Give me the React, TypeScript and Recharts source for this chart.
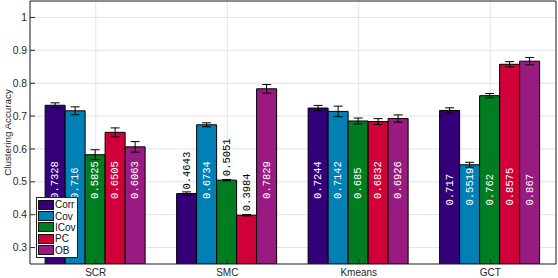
import React from "react";
import {
  BarChart,
  Bar,
  XAxis,
  YAxis,
  CartesianGrid,
  ErrorBar,
  LabelList,
  Legend,
  Label,
} from "recharts";

const categories = ["SCR", "SMC", "Kmeans", "GCT"];
const seriesNames = ["Corr", "Cov", "ICov", "PC", "OB"];
const seriesColors = ["#33007a", "#0080b4", "#007d20", "#d00038", "#991a80"];

const corrValues = [0.7328, 0.4643, 0.7244, 0.717];
const covValues = [0.716, 0.6734, 0.7142, 0.5519];
const icovValues = [0.5825, 0.5051, 0.685, 0.762];
const pcValues = [0.6505, 0.3984, 0.6832, 0.8575];
const obValues = [0.6063, 0.7829, 0.6926, 0.867];

const corrErrors = [0.0075, 0.005, 0.008, 0.008];
const covErrors = [0.012, 0.006, 0.016, 0.0075];
const icovErrors = [0.015, 0.002, 0.009, 0.0065];
const pcErrors = [0.0135, 0.002, 0.009, 0.008];
const obErrors = [0.016, 0.013, 0.011, 0.011];

const yTicks = [0.3, 0.4, 0.5, 0.6, 0.7, 0.8, 0.9, 1];

const seriesValues = [corrValues, covValues, icovValues, pcValues, obValues];
const seriesErrors = [corrErrors, covErrors, icovErrors, pcErrors, obErrors];

const data = categories.map((name, i) => {
  const row: any = { name };
  seriesNames.forEach((s, j) => {
    row[s] = seriesValues[j][i];
    row[s + "Err"] = seriesErrors[j][i];
  });
  return row;
});

const AXIS = "#262626";
const SANS = "'Liberation Sans', Arial, Helvetica, sans-serif";
const MONO = "'Liberation Mono', 'DejaVu Sans Mono', monospace";
const Y_MIN = 0.25;

// values sit inside the bar when tall enough, otherwise just above it
const renderValueLabel = (props: any) => {
  const { x, y, width, height, value, index } = props;
  const cx = x + width / 2;
  const bottom = y + height;
  const perUnit = height / (value - Y_MIN);
  const inside = value > 0.55;
  const anchor = index === 3 ? 0.428 : 0.448;
  const sy = inside ? bottom - (anchor - Y_MIN) * perUnit : y - 4;
  return (
    <text
      x={cx}
      y={sy}
      transform={`rotate(-90 ${cx} ${sy})`}
      textAnchor="start"
      dominantBaseline="central"
      fill={inside ? "#fff" : "#000"}
      fontSize={10.5}
      fontFamily={MONO}
    >
      {value}
    </text>
  );
};

const renderLegend = () => (
  <div
    style={{
      border: "1.5px solid #222",
      background: "#fff",
      padding: "1px 0 1px 1px",
      width: 39,
      height: 57,
      boxSizing: "content-box",
      overflow: "hidden",
    }}
  >
    {seriesNames.map((name, i) => (
      <div
        key={name}
        style={{ display: "flex", alignItems: "center", height: 11.4, whiteSpace: "nowrap" }}
      >
        <span
          style={{
            display: "inline-block",
            flex: "none",
            width: 14,
            height: 8,
            background: seriesColors[i],
            border: "1px solid #111",
            marginRight: 1,
          }}
        />
        <span
          style={{
            fontSize: 10,
            fontFamily: SANS,
            color: "#111",
            lineHeight: "11px",
          }}
        >
          {name}
        </span>
      </div>
    ))}
  </div>
);

const renderYLabel = (props: any) => {
  const vb = props.viewBox || { x: 0, y: 0, width: 30, height: 264 };
  const lx = vb.x + 7;
  const ly = vb.y + vb.height / 2;
  return (
    <text
      x={lx}
      y={ly}
      transform={`rotate(-90 ${lx} ${ly})`}
      textAnchor="middle"
      dominantBaseline="central"
      fontSize={9.8}
      fontFamily={SANS}
      fill={AXIS}
    >
      Clustering Accuracy
    </text>
  );
};

export default function App() {
  return (
    <div style={{ position: "absolute", left: 0, top: 0, background: "#fff" }}>
      <BarChart
        width={558}
        height={278}
        data={data}
        margin={{ top: 0, right: 1, bottom: 0, left: 0 }}
        barCategoryGap="11.5%"
        barGap={0}
      >
        <CartesianGrid stroke="#e3e3e3" strokeWidth={1} />
        {seriesNames.map((s, j) => (
          <Bar
            key={s}
            dataKey={s}
            fill={seriesColors[j]}
            stroke="#000"
            strokeWidth={1}
            isAnimationActive={false}
          >
            <ErrorBar
              dataKey={s + "Err"}
              width={4.5}
              stroke="#000"
              strokeWidth={1}
              isAnimationActive={false}
            />
            <LabelList dataKey={s} content={renderValueLabel} />
          </Bar>
        ))}
        <XAxis
          dataKey="name"
          height={14}
          tickSize={-5}
          tickMargin={10}
          axisLine={{ stroke: AXIS }}
          tickLine={{ stroke: AXIS }}
          tick={{ fontSize: 10, fill: AXIS, fontFamily: SANS }}
        />
        <XAxis
          xAxisId="top"
          dataKey="name"
          orientation="top"
          height={1}
          tick={false}
          tickSize={-5}
          axisLine={{ stroke: AXIS }}
          tickLine={{ stroke: AXIS }}
        />
        <YAxis
          width={30}
          domain={[Y_MIN, 1.05]}
          ticks={yTicks}
          allowDataOverflow
          tickSize={-5}
          tickMargin={8}
          axisLine={{ stroke: AXIS }}
          tickLine={{ stroke: AXIS }}
          tick={{ fontSize: 10.3, fill: AXIS, fontFamily: SANS }}
          tickFormatter={(v: number) => String(v)}
        >
          <Label content={renderYLabel} />
        </YAxis>
        <YAxis
          yAxisId="right"
          orientation="right"
          width={1}
          domain={[Y_MIN, 1.05]}
          ticks={yTicks}
          allowDataOverflow
          tick={false}
          tickSize={-5}
          axisLine={{ stroke: AXIS }}
          tickLine={{ stroke: AXIS }}
        />
        <Legend
          layout="vertical"
          align="center"
          verticalAlign="middle"
          content={renderLegend}
          wrapperStyle={{ left: 36, top: 197, width: 43, height: 61 }}
        />
      </BarChart>
    </div>
  );
}
